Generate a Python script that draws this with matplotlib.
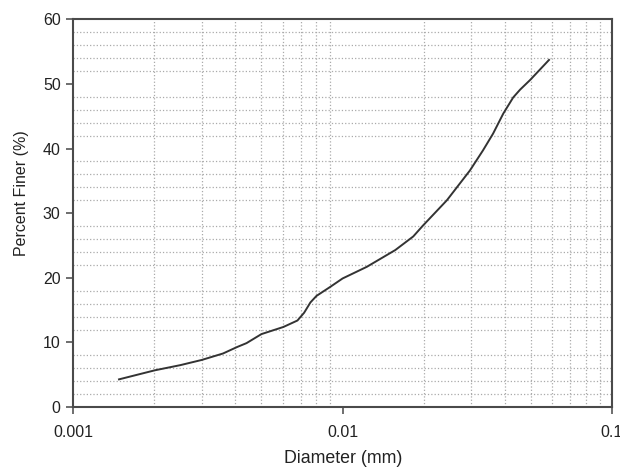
import matplotlib.pyplot as plt
from matplotlib.ticker import LogLocator, MultipleLocator, FixedLocator, NullFormatter

plt.rcParams['font.family'] = ['Liberation Sans', 'DejaVu Sans']

# grain size distribution
diameter = [0.00148, 0.00201, 0.0025, 0.0030, 0.0036, 0.00406, 0.0044, 0.0050,
            0.00603, 0.0068, 0.0072, 0.0076, 0.0080, 0.0090, 0.0100, 0.0123,
            0.0157, 0.0183, 0.0199, 0.0244, 0.0297, 0.0332, 0.0362, 0.0395,
            0.0430, 0.0456, 0.0497, 0.0584]
finer = [4.3, 5.7, 6.5, 7.3, 8.3, 9.3, 9.9, 11.3,
         12.4, 13.4, 14.6, 16.2, 17.2, 18.6, 19.9, 21.7,
         24.3, 26.4, 28.1, 32.0, 36.6, 39.7, 42.3, 45.4,
         47.9, 49.1, 50.6, 53.7]

x_ticks = [0.001, 0.01, 0.1]
x_tick_labels = ['0.001', '0.01', '0.1']
y_ticks = [0, 10, 20, 30, 40, 50, 60]

fig = plt.figure(figsize=(6.2, 4.68), dpi=100)
ax = fig.add_axes([0.118, 0.130, 0.869, 0.829])

ax.plot(diameter, finer, color='#333333', lw=1.4)

ax.set_xscale('log')
ax.set_xlim(0.001, 0.1)
ax.set_ylim(0, 60)
ax.xaxis.set_major_locator(FixedLocator(x_ticks))
ax.set_xticklabels(x_tick_labels)
ax.xaxis.set_minor_locator(LogLocator(base=10, subs=range(2, 10)))
ax.xaxis.set_minor_formatter(NullFormatter())
ax.set_yticks(y_ticks)
ax.yaxis.set_minor_locator(MultipleLocator(2))

ax.grid(False, which='major')
ax.grid(True, which='minor', linestyle=':', color='#aaaaaa', lw=0.9)
ax.tick_params(which='minor', length=0)
ax.tick_params(which='major', direction='out', length=5, width=1.2,
               color='#555555', labelsize=11.5, labelcolor='#222222')
ax.tick_params(axis='x', pad=8)
ax.tick_params(axis='y', pad=4)

for s in ax.spines.values():
    s.set_color('#4a4a4a')
    s.set_linewidth(1.5)

fig.text(0.553, 0.02, 'Diameter (mm)', fontsize=12.8, color='#222222',
         ha='center', va='center')
fig.text(0.035, 0.588, 'Percent Finer (%)', fontsize=11.5, color='#222222',
         ha='center', va='center', rotation=90)

fig.savefig('out.png', dpi=100)
